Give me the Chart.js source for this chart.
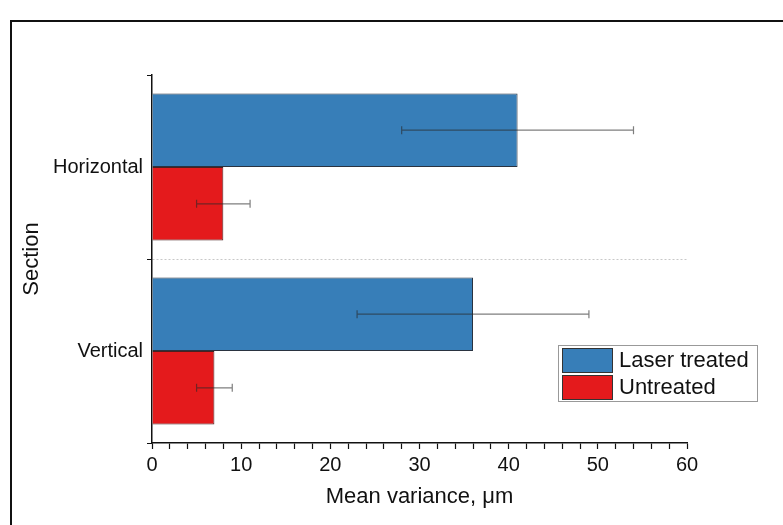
<!DOCTYPE html>
<html>
<head>
<meta charset="utf-8">
<script src="https://cdn.jsdelivr.net/npm/chart.js@4"></script>
<style>
  html, body { margin: 0; padding: 0; background: #fff; }
  #wrap { width: 783px; height: 525px; }
</style>
</head>
<body>
<div id="wrap"><canvas id="varChart" width="783" height="525"></canvas></div>
<script>
const sections = ['Horizontal', 'Vertical'];
const laserMean = [41, 36];
const laserErr = [13, 13];
const untreatedMean = [8, 7];
const untreatedErr = [3, 2];
const xTicksMin = 0;
const xTicksMax = 60;

const FONT = "'Liberation Sans', Arial, sans-serif";

// frame round the figure (only top and left edges show)
const framePlugin = {
  id: 'frame',
  beforeDraw(chart) {
    const c = chart.ctx;
    c.save();
    c.fillStyle = '#fff';
    c.fillRect(0, 0, chart.width, chart.height);
    c.strokeStyle = '#111';
    c.lineWidth = 2;
    c.strokeRect(11, 21, chart.width + 20, chart.height + 20);
    c.restore();
  }
};

// error bars from the err arrays
const errorBars = {
  id: 'errorBars',
  afterDatasetsDraw(chart) {
    const c = chart.ctx;
    const xs = chart.scales.x;
    chart.data.datasets.forEach((ds, i) => {
      const meta = chart.getDatasetMeta(i);
      meta.data.forEach((bar, j) => {
        const v = ds.data[j], e = ds.errors[j];
        const x1 = xs.getPixelForValue(v - e);
        const x2 = xs.getPixelForValue(v + e);
        const y = bar.y;
        c.save();
        c.strokeStyle = 'rgba(40,40,40,0.6)';
        c.lineWidth = 1.2;
        c.beginPath();
        c.moveTo(x1, y); c.lineTo(x2, y);
        c.moveTo(x1, y - 4); c.lineTo(x1, y + 4);
        c.moveTo(x2, y - 4); c.lineTo(x2, y + 4);
        c.stroke();
        c.restore();
      });
    });
  }
};

// boxed legend inside the plot, lower right
const boxLegend = {
  id: 'boxLegend',
  afterDraw(chart) {
    const c = chart.ctx;
    c.save();
    c.fillStyle = '#fff';
    c.fillRect(558, 345, 199, 56);
    c.strokeStyle = '#999';
    c.lineWidth = 1;
    c.strokeRect(558.5, 345.5, 199, 56);
    chart.data.datasets.forEach((ds, i) => {
      const y = 348 + i * 27;
      c.fillStyle = ds.backgroundColor;
      c.fillRect(562, y, 50, 24);
      c.strokeStyle = '#333';
      c.strokeRect(562.5, y + 0.5, 50, 24);
      c.fillStyle = '#111';
      c.font = '22px ' + FONT;
      c.textBaseline = 'middle';
      c.fillText(ds.label, 619, y + 13);
    });
    c.restore();
  }
};

new Chart(document.getElementById('varChart'), {
  type: 'bar',
  data: {
    labels: sections,
    datasets: [
      {
        label: 'Laser treated',
        data: laserMean,
        errors: laserErr,
        backgroundColor: '#377eb8',
        borderColor: '#2a3340',
        borderWidth: 1
      },
      {
        label: 'Untreated',
        data: untreatedMean,
        errors: untreatedErr,
        backgroundColor: '#e41a1c',
        borderColor: '#4a2020',
        borderWidth: 1
      }
    ]
  },
  options: {
    indexAxis: 'y',
    responsive: false,
    animation: false,
    categoryPercentage: 0.8,
    barPercentage: 1.0,
    layout: { padding: { top: 75, right: 96, left: 0, bottom: 0 } },
    plugins: {
      legend: { display: false },
      tooltip: { enabled: false }
    },
    scales: {
      x: {
        min: xTicksMin,
        max: xTicksMax,
        afterFit(scale) { scale.height = 82; },
        border: { color: '#111', width: 1.5 },
        grid: {
          drawOnChartArea: false,
          tickLength: 6,
          tickColor: '#111',
          tickWidth: 1.2
        },
        ticks: {
          stepSize: 2,
          autoSkip: false,
          maxRotation: 0,
          padding: 4,
          color: '#111',
          font: { family: FONT, size: 20 },
          callback: v => (v % 10 === 0 ? v : '')
        },
        title: {
          display: true,
          text: 'Mean variance, μm',
          color: '#111',
          font: { family: FONT, size: 22 },
          padding: { top: 0, bottom: 15 }
        }
      },
      y: {
        afterFit(scale) { scale.width = 152; },
        border: { color: '#111', width: 1.5, dash: [2, 2] },
        grid: {
          offset: true,
          drawOnChartArea: true,
          color: ctx => (ctx.index === 1 ? '#c8c8c8' : 'rgba(0,0,0,0)'),
          tickColor: '#111',
          tickLength: 5,
          lineWidth: 1
        },
        ticks: {
          padding: 4,
          color: '#111',
          font: { family: FONT, size: 20 }
        },
        title: {
          display: true,
          text: 'Section',
          color: '#111',
          font: { family: FONT, size: 22 },
          padding: { top: 19, bottom: 0 }
        }
      }
    }
  },
  plugins: [framePlugin, errorBars, boxLegend]
});
</script>
</body>
</html>
